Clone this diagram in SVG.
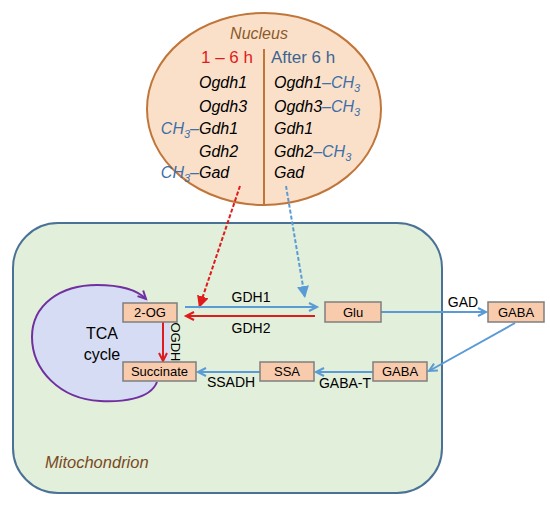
<svg xmlns="http://www.w3.org/2000/svg" width="550" height="507" viewBox="0 0 550 507">
<style>
text{font-family:"Liberation Sans",Arial,sans-serif;}
.box{fill:#f8cbad;stroke:#7f7f7f;stroke-width:1.5;}
.bl{font-size:13px;fill:#000;text-anchor:middle;}
.lbl{font-size:14px;fill:#000;text-anchor:middle;}
.gene{font-size:16px;font-style:italic;fill:#000;}
.ch{fill:#3d6fa8;}
.sub{font-size:11px;}
.blue{stroke:#5b9bd5;stroke-width:2;fill:none;}
.red{stroke:#e01b1b;stroke-width:2;fill:none;}
</style>
<defs>
<marker id="ab" markerWidth="12" markerHeight="12" refX="9" refY="5" orient="auto" markerUnits="userSpaceOnUse" viewBox="0 0 12 10">
<path d="M1,1 L9,5 L1,9" fill="none" stroke="#5b9bd5" stroke-width="2"/>
</marker>
<marker id="ar" markerWidth="12" markerHeight="12" refX="9" refY="5" orient="auto" markerUnits="userSpaceOnUse" viewBox="0 0 12 10">
<path d="M1,1 L9,5 L1,9" fill="none" stroke="#e01b1b" stroke-width="2"/>
</marker>
<marker id="ap" markerWidth="12" markerHeight="12" refX="9" refY="5" orient="auto" markerUnits="userSpaceOnUse" viewBox="0 0 12 10">
<path d="M1,1 L9,5 L1,9" fill="none" stroke="#7030a0" stroke-width="2"/>
</marker>
<marker id="tb" markerWidth="12" markerHeight="12" refX="10" refY="5" orient="auto" markerUnits="userSpaceOnUse" viewBox="0 0 10 10">
<path d="M0,0 L10,5 L0,10 Z" fill="#5b9bd5"/>
</marker>
<marker id="tr" markerWidth="12" markerHeight="12" refX="10" refY="5" orient="auto" markerUnits="userSpaceOnUse" viewBox="0 0 10 10">
<path d="M0,0 L10,5 L0,10 Z" fill="#e01b1b"/>
</marker>
</defs>
<rect width="550" height="507" fill="#fff"/>

<g id="mitochondrion">
<rect x="13" y="223" width="429" height="270" rx="45" ry="45" fill="#e2efda" stroke="#4a7296" stroke-width="2"/>
<text x="45" y="468" font-size="16.5" font-style="italic" fill="#7a4a1e">Mitochondrion</text>
</g>

<g id="tca">
<path d="M157,382 C150,400 120,402 100,401 C60,399 32,370 32,337 C32,305 60,285 97,285 C120,285 138,290 148,301 L148,303 L170,303 L170,381 L157,381 Z" fill="#d6dcf4" stroke="none"/>
<path d="M157,382 C150,400 120,402 100,401 C60,399 32,370 32,337 C32,305 60,285 97,285 C120,285 136,289 146,299" fill="none" stroke="#7030a0" stroke-width="2" marker-end="url(#ap)"/>
<text x="102" y="339" font-size="16" fill="#000" text-anchor="middle">TCA</text>
<text x="102" y="360" font-size="16" fill="#000" text-anchor="middle">cycle</text>
</g>

<g id="nucleus">
<ellipse cx="264" cy="109" rx="117" ry="96" fill="#fbe0c9" stroke="#c0763a" stroke-width="2"/>
<line x1="264" y1="49" x2="264" y2="205" stroke="#c0763a" stroke-width="2"/>
<text x="259" y="39" font-size="16" font-style="italic" fill="#8c5a2a" text-anchor="middle">Nucleus</text>
<text x="253" y="63" font-size="17" fill="#e01b1b" text-anchor="end">1 – 6 h</text>
<text x="271" y="63" font-size="17" fill="#3b6591">After 6 h</text>
<text class="gene" x="199" y="88">Ogdh1</text>
<text class="gene" x="199" y="112">Ogdh3</text>
<text class="gene" x="199" y="134">Gdh1</text>
<text class="gene" x="199" y="157">Gdh2</text>
<text class="gene" x="199" y="178">Gad</text>
<text class="gene ch" x="199" y="134" text-anchor="end">CH<tspan class="sub" dy="4">3</tspan><tspan dy="-4">–</tspan></text>
<text class="gene ch" x="199" y="178" text-anchor="end">CH<tspan class="sub" dy="4">3</tspan><tspan dy="-4">–</tspan></text>
<text class="gene" x="274" y="88">Ogdh1<tspan class="ch">–CH</tspan><tspan class="ch sub" dy="4">3</tspan></text>
<text class="gene" x="274" y="112">Ogdh3<tspan class="ch">–CH</tspan><tspan class="ch sub" dy="4">3</tspan></text>
<text class="gene" x="274" y="134">Gdh1</text>
<text class="gene" x="274" y="157">Gdh2<tspan class="ch">–CH</tspan><tspan class="ch sub" dy="4">3</tspan></text>
<text class="gene" x="274" y="178">Gad</text>
</g>

<g id="connectors">
<line class="red" x1="240" y1="186" x2="199" y2="308" stroke-dasharray="4,2" marker-end="url(#tr)"/>
<line class="blue" x1="286" y1="186" x2="305" y2="298" stroke-dasharray="4,2" marker-end="url(#tb)"/>
<line class="blue" x1="185" y1="307" x2="317" y2="307" marker-end="url(#ab)"/>
<line class="red" x1="315" y1="316" x2="186" y2="316" marker-end="url(#ar)"/>
<line class="red" x1="163" y1="322" x2="163" y2="361" marker-end="url(#ar)"/>
<line class="blue" x1="381" y1="312" x2="486" y2="312" marker-end="url(#ab)"/>
<line class="blue" x1="515" y1="323" x2="429" y2="371" marker-end="url(#ab)"/>
<line class="blue" x1="373" y1="372" x2="316" y2="372" marker-end="url(#ab)"/>
<line class="blue" x1="260" y1="372" x2="198" y2="372" marker-end="url(#ab)"/>
<text class="lbl" x="251" y="302">GDH1</text>
<text class="lbl" x="251" y="333">GDH2</text>
<text class="lbl" x="463" y="307">GAD</text>
<text class="lbl" x="345" y="388">GABA-T</text>
<text class="lbl" x="231" y="387">SSADH</text>
<text font-size="13" fill="#000" text-anchor="middle" transform="translate(171,342) rotate(90)">OGDH</text>
</g>

<g id="n-2og"><rect class="box" x="123" y="303" width="54" height="19"/><text class="bl" x="150" y="317">2-OG</text></g>
<g id="n-succinate"><rect class="box" x="123" y="362" width="73" height="19"/><text class="bl" x="159.5" y="376">Succinate</text></g>
<g id="n-ssa"><rect class="box" x="260" y="362" width="54" height="19"/><text class="bl" x="287" y="376">SSA</text></g>
<g id="n-gaba2"><rect class="box" x="373" y="362" width="54" height="19"/><text class="bl" x="400" y="376">GABA</text></g>
<g id="n-glu"><rect class="box" x="325" y="302" width="56" height="20"/><text class="bl" x="353" y="316.5">Glu</text></g>
<g id="n-gaba1"><rect class="box" x="488" y="302" width="56" height="20"/><text class="bl" x="516" y="316.5">GABA</text></g>
</svg>
